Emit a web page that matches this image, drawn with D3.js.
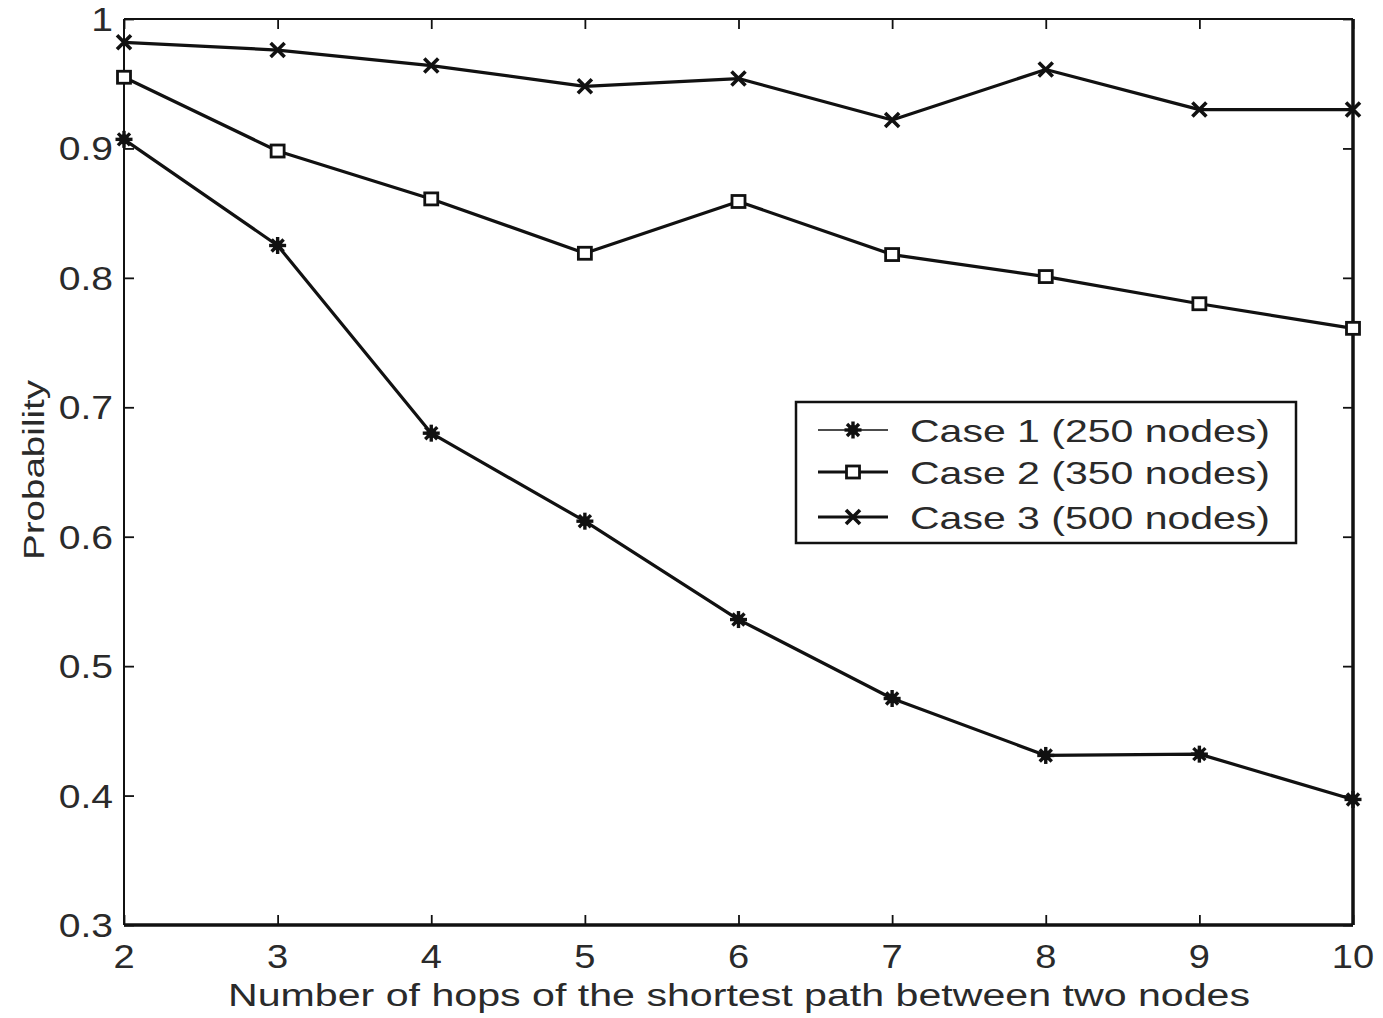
<!DOCTYPE html>
<html>
<head>
<meta charset="utf-8">
<script src="https://cdn.jsdelivr.net/npm/d3@7"></script>
<style>
  body { margin: 0; background: #fff; }
  text { font-family: "Liberation Sans", Arial, Helvetica, sans-serif; fill: #2a2a2a; }
</style>
</head>
<body>
<div class="chart"></div>
<script>
// hops on the x axis
const hops = [2, 3, 4, 5, 6, 7, 8, 9, 10];
// probability per case
const case1 = [0.907, 0.825, 0.680, 0.612, 0.536, 0.475, 0.431, 0.432, 0.397];
const case2 = [0.955, 0.898, 0.861, 0.819, 0.859, 0.818, 0.801, 0.780, 0.761];
const case3 = [0.982, 0.976, 0.964, 0.948, 0.954, 0.922, 0.961, 0.930, 0.930];
const seriesNames = ["Case 1 (250 nodes)", "Case 2 (350 nodes)", "Case 3 (500 nodes)"];
const markerTypes = ["star", "square", "cross"];
const yTicks = [0.3, 0.4, 0.5, 0.6, 0.7, 0.8, 0.9, 1];

const W = 1383, H = 1018;
const margin = {top: 19, right: 30, bottom: 93, left: 124};
const width = W - margin.left - margin.right,
      height = H - margin.top - margin.bottom;

const svg = d3.select(".chart").append("svg")
    .attr("width", W)
    .attr("height", H)
  .append("g")
    .attr("transform", "translate(" + margin.left + "," + margin.top + ")");

const xScale = d3.scaleLinear().domain([2, 10]).range([0, width]);
const yScale = d3.scaleLinear().domain([0.3, 1]).range([height, 0]);

// inward ticks on all four sides, like matlab
svg.append("g").attr("class", "x-axis")
    .attr("transform", "translate(0," + height + ")")
    .call(d3.axisBottom(xScale).tickValues(hops).tickSize(-10).tickFormat(""));
svg.append("g").attr("class", "x-axis-top")
    .call(d3.axisTop(xScale).tickValues(hops).tickSize(-10).tickFormat(""));
svg.append("g").attr("class", "y-axis")
    .call(d3.axisLeft(yScale).tickValues(yTicks).tickSize(-10).tickFormat(""));
svg.append("g").attr("class", "y-axis-right")
    .attr("transform", "translate(" + width + ",0)")
    .call(d3.axisRight(yScale).tickValues(yTicks).tickSize(-10).tickFormat(""));
svg.selectAll(".domain").remove();
svg.selectAll(".tick line").attr("stroke", "#111").attr("stroke-width", 1.8);

// frame
svg.append("line").attr("x1", 0).attr("x2", width).attr("y1", 0).attr("y2", 0)
    .attr("stroke", "#111").attr("stroke-width", 2);
svg.append("line").attr("x1", 0).attr("x2", 0).attr("y1", 0).attr("y2", height)
    .attr("stroke", "#111").attr("stroke-width", 2);
svg.append("line").attr("x1", 0).attr("x2", width).attr("y1", height).attr("y2", height)
    .attr("stroke", "#111").attr("stroke-width", 3.5);
svg.append("line").attr("x1", width).attr("x2", width).attr("y1", 0).attr("y2", height)
    .attr("stroke", "#111").attr("stroke-width", 3.5);

// tick labels (the scan is a bit stretched sideways)
svg.selectAll(".xlab").data(hops).enter().append("text")
    .attr("class", "xlab")
    .attr("text-anchor", "middle")
    .attr("font-size", 34)
    .attr("transform", d => "translate(" + xScale(d) + "," + (height + 43) + ") scale(1.12,1)")
    .text(d => d);

svg.selectAll(".ylab").data(yTicks).enter().append("text")
    .attr("class", "ylab")
    .attr("text-anchor", "end")
    .attr("font-size", 34)
    .attr("transform", d => "translate(-11," + (yScale(d) + 12) + ") scale(1.15,1)")
    .text(d => d3.format("~g")(d));

// axis titles
svg.append("text")
    .attr("x", (228 + 1250) / 2 - margin.left)
    .attr("y", height + 81)
    .attr("text-anchor", "middle")
    .attr("font-size", 31)
    .attr("textLength", 1022)
    .attr("lengthAdjust", "spacingAndGlyphs")
    .text("Number of hops of the shortest path between two nodes");

svg.append("text")
    .attr("transform", "translate(" + (44 - margin.left) + "," + (470 - margin.top) + ") rotate(-90)")
    .attr("text-anchor", "middle")
    .attr("font-size", 29)
    .attr("textLength", 180)
    .attr("lengthAdjust", "spacingAndGlyphs")
    .text("Probability");

// markers
function drawMarker(g, type, x, y) {
  if (type === "star") {
    const r = 8.5;
    for (let a = 0; a < 4; a++) {
      const t = a * Math.PI / 4;
      g.append("line")
        .attr("x1", x - r * Math.cos(t)).attr("y1", y - r * Math.sin(t))
        .attr("x2", x + r * Math.cos(t)).attr("y2", y + r * Math.sin(t))
        .attr("stroke", "#111").attr("stroke-width", 3.4);
    }
    g.append("circle").attr("cx", x).attr("cy", y).attr("r", 5).attr("fill", "#111");
  } else if (type === "square") {
    g.append("rect")
      .attr("x", x - 6.5).attr("y", y - 6)
      .attr("width", 13).attr("height", 12)
      .attr("fill", "#fff").attr("stroke", "#111").attr("stroke-width", 2.8);
  } else {
    const r = 7;
    g.append("path")
      .attr("d", "M" + (x - r) + "," + (y - r) + "L" + (x + r) + "," + (y + r) +
                 "M" + (x - r) + "," + (y + r) + "L" + (x + r) + "," + (y - r))
      .attr("stroke", "#111").attr("stroke-width", 3.6);
  }
}

const allSeries = [case1, case2, case3];
const line = d3.line()
    .x((d, i) => xScale(hops[i]))
    .y(d => yScale(d));

allSeries.forEach(function(vals, k) {
  svg.append("path")
    .datum(vals)
    .attr("fill", "none")
    .attr("stroke", "#111")
    .attr("stroke-width", 3.2)
    .attr("stroke-linejoin", "round")
    .attr("d", line);
  const mg = svg.append("g");
  vals.forEach(function(v, i) {
    drawMarker(mg, markerTypes[k], xScale(hops[i]), yScale(v));
  });
});

// legend
const lg = svg.append("g")
    .attr("transform", "translate(" + (796 - margin.left) + "," + (402 - margin.top) + ")");
lg.append("rect")
    .attr("width", 500).attr("height", 141)
    .attr("fill", "#fff").attr("stroke", "#111").attr("stroke-width", 2.5);
const rowY = [28, 70, 115];
seriesNames.forEach(function(name, k) {
  lg.append("line")
    .attr("x1", 22).attr("x2", 92).attr("y1", rowY[k]).attr("y2", rowY[k])
    .attr("stroke", "#111").attr("stroke-width", k === 0 ? 1.6 : 3.2);
  drawMarker(lg, markerTypes[k], 57, rowY[k]);
  lg.append("text")
    .attr("x", 114).attr("y", rowY[k] + 12)
    .attr("font-size", 32)
    .attr("textLength", 360)
    .attr("lengthAdjust", "spacingAndGlyphs")
    .text(name);
});
</script>
</body>
</html>
